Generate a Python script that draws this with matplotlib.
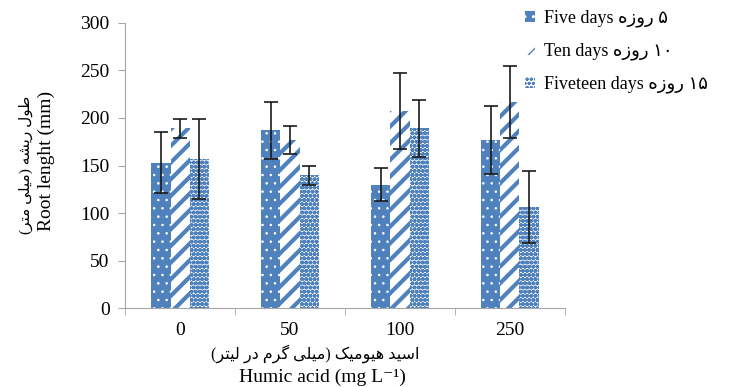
import numpy as np
import matplotlib
matplotlib.use("Agg")
import matplotlib.pyplot as plt

# data
doses = ["0", "50", "100", "250"]
five_days = [153, 187, 130, 177]
five_err = [32, 30, 17, 36]
ten_days = [189, 177, 207, 217]
ten_err = [10, 15, 40, 38]
fifteen_days = [157, 140, 189, 106]
fifteen_err = [42, 10, 30, 38]

# simple Persian shaping (presentation forms + visual order)
FORMS = {
    'ا': ('\uFE8D', '\uFE8E', None, None),
    'د': ('\uFEA9', '\uFEAA', None, None),
    'ر': ('\uFEAD', '\uFEAE', None, None),
    'ز': ('\uFEAF', '\uFEB0', None, None),
    'و': ('\uFEED', '\uFEEE', None, None),
    'ط': ('\uFEC1', '\uFEC2', '\uFEC3', '\uFEC4'),
    'ل': ('\uFEDD', '\uFEDE', '\uFEDF', '\uFEE0'),
    'س': ('\uFEB1', '\uFEB2', '\uFEB3', '\uFEB4'),
    'ش': ('\uFEB5', '\uFEB6', '\uFEB7', '\uFEB8'),
    'ه': ('\uFEE9', '\uFEEA', '\uFEEB', '\uFEEC'),
    'م': ('\uFEE1', '\uFEE2', '\uFEE3', '\uFEE4'),
    'ت': ('\uFE95', '\uFE96', '\uFE97', '\uFE98'),
    'ی': ('\uFBFC', '\uFBFD', '\uFBFE', '\uFBFF'),
    'ک': ('\uFB8E', '\uFB8F', '\uFB90', '\uFB91'),
    'گ': ('\uFB92', '\uFB93', '\uFB94', '\uFB95'),
}


def rtl(s):
    out = []
    for i, ch in enumerate(s):
        if ch not in FORMS:
            out.append(ch)
            continue
        prev = s[i - 1] if i > 0 else ''
        nxt = s[i + 1] if i + 1 < len(s) else ''
        jp = prev in FORMS and FORMS[prev][2] is not None
        jn = FORMS[ch][2] is not None and nxt in FORMS
        iso, fin, ini, med = FORMS[ch]
        if jp and jn:
            out.append(med)
        elif jp:
            out.append(fin)
        elif jn:
            out.append(ini)
        else:
            out.append(iso)
    vis = ''.join(reversed(out))
    vis = vis.translate(str.maketrans('()', ')('))
    # keep digit runs left to right
    res, run = [], ''
    for ch in vis:
        if ch in '۰۱۲۳۴۵۶۷۸۹':
            run += ch
        else:
            res.append(run[::-1])
            run = ''
            res.append(ch)
    res.append(run[::-1])
    return ''.join(res)


plt.rcParams['font.family'] = ['Liberation Serif', 'DejaVu Sans']
plt.rcParams['font.size'] = 14
blue = '#4F81BD'

fig = plt.figure(figsize=(7.29, 3.87), dpi=100)
ax = fig.add_axes([0.1715, 0.2041, 0.6035, 0.7365])

x = np.arange(len(doses))
w = 0.173
err_kw = dict(ecolor='#1a1a1a', elinewidth=1.2, capsize=5, capthick=1.2)

b1 = ax.bar(x - w, five_days, w, yerr=five_err, color=blue, edgecolor='white',
            hatch='..', linewidth=0, error_kw=err_kw,
            label='Five days ' + rtl('۵ روزه'))
b2 = ax.bar(x, ten_days, w, yerr=ten_err, color='white', edgecolor=blue,
            hatch='//', linewidth=0, error_kw=err_kw,
            label='Ten days ' + rtl('۱۰ روزه'))
b3 = ax.bar(x + w, fifteen_days, w, yerr=fifteen_err, color='white', edgecolor=blue,
            hatch='oooo', linewidth=0, error_kw=err_kw,
            label='Fiveteen days ' + rtl('۱۵ روزه'))
for bars, lw in ((b1, 0.6), (b2, 3.0), (b3, 1.5)):
    for p in bars:
        try:
            p.set_hatch_linewidth(lw)
        except AttributeError:
            pass

ax.set_xlim(-0.5, 3.5)
ax.set_ylim(0, 300)
ax.set_yticks(range(0, 301, 50))
ax.set_xticks(x)
ax.set_xticklabels(doses)
ax.set_xticks(np.arange(-0.5, 3.6, 1), minor=True)
ax.tick_params(axis='x', which='major', length=0, pad=10)
ax.tick_params(axis='x', which='minor', length=5, color='#a6a6a6')
ax.tick_params(axis='y', length=5, color='#a6a6a6', pad=6)
for s in ('top', 'right'):
    ax.spines[s].set_visible(False)
for s in ('left', 'bottom'):
    ax.spines[s].set_color('#a6a6a6')

fig.text(0.063, 0.585, 'Root lenght (mm)', rotation=90, ha='center', va='center', fontsize=14)
fig.text(0.035, 0.575, rtl('طول ریشه (میلی متر)'), rotation=90, ha='center',
         va='center', fontsize=11)
fig.text(0.433, 0.085, rtl('اسید هیومیک (میلی گرم در لیتر)'), ha='center',
         va='center', fontsize=11.5)
fig.text(0.442, 0.025, 'Humic acid (mg L⁻¹)', ha='center', va='center', fontsize=14)

ax.legend(loc='upper left', bbox_to_anchor=(0.7, 1.012), bbox_transform=fig.transFigure,
          frameon=False, handlelength=0.55, handleheight=0.55, handletextpad=0.5,
          labelspacing=0.85, fontsize=13, borderpad=0.3)

fig.savefig('out.png', dpi=100)
